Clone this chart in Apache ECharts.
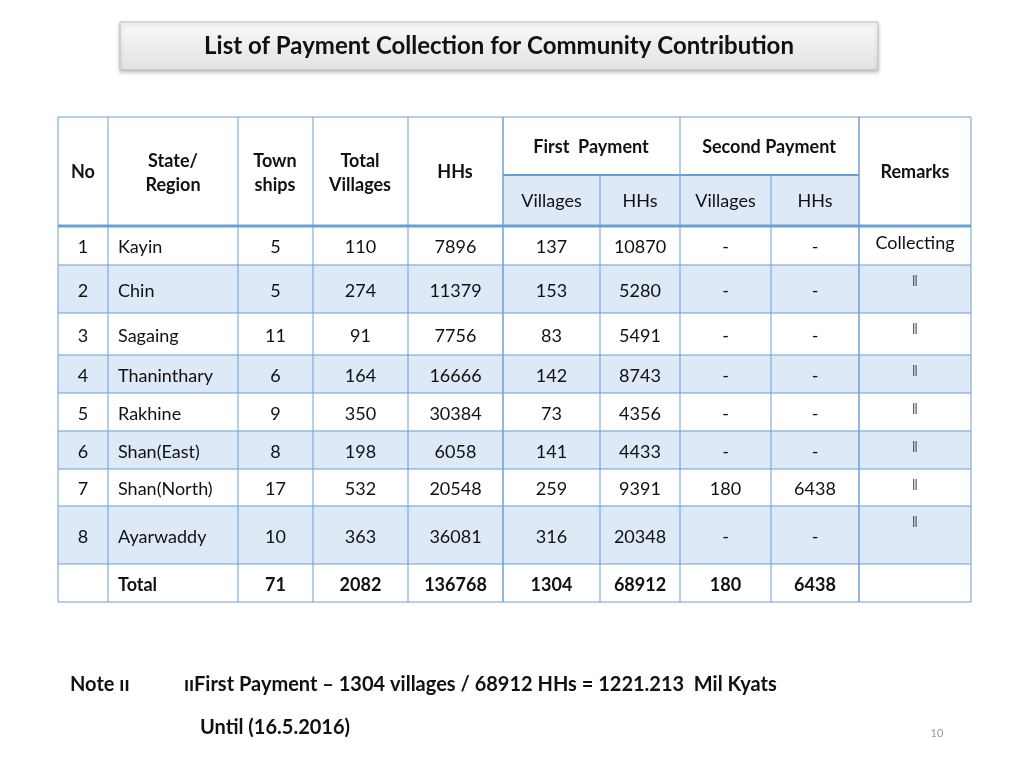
<!DOCTYPE html>
<html><head><meta charset="utf-8">
<script src="https://cdn.jsdelivr.net/npm/echarts@6/dist/echarts.min.js"></script>
<style>html,body{margin:0;background:#fff}#c{width:1024px;height:768px}</style>
</head><body><div id="c"></div>
<script>
var nos = ['1', '2', '3', '4', '5', '6', '7', '8', ''];
var regions = ['Kayin', 'Chin', 'Sagaing', 'Thaninthary', 'Rakhine', 'Shan(East)', 'Shan(North)', 'Ayarwaddy', 'Total'];
var townships = [5, 5, 11, 6, 9, 8, 17, 10, 71];
var totalVillages = [110, 274, 91, 164, 350, 198, 532, 363, 2082];
var hhs = [7896, 11379, 7756, 16666, 30384, 6058, 20548, 36081, 136768];
var firstVillages = [137, 153, 83, 142, 73, 141, 259, 316, 1304];
var firstHHs = [10870, 5280, 5491, 8743, 4356, 4433, 9391, 20348, 68912];
var secondVillages = ['-', '-', '-', '-', '-', '-', 180, '-', 180];
var secondHHs = ['-', '-', '-', '-', '-', '-', 6438, '-', 6438];
var remarks = ['Collecting', '\u2016', '\u2016', '\u2016', '\u2016', '\u2016', '\u2016', '\u2016', ''];

var colX = [58, 108, 238, 313, 408, 503, 600, 680, 771, 859, 971];
var rowY = [226, 265, 313, 355, 393, 431, 469, 506, 564, 602];
var headTop = 117, headMid = 175;
var FONT = 'Lato, "Noto Sans", sans-serif';
var LINE = '#6a9fd4', FILL = '#dde9f6';

var g = [];
function rect(x, y, w, h, fill) {
  g.push({type: 'rect', shape: {x: x, y: y, width: w, height: h}, style: {fill: fill}, silent: true});
}
function line(x1, y1, x2, y2, w) {
  g.push({type: 'line', shape: {x1: x1, y1: y1, x2: x2, y2: y2}, style: {stroke: LINE, lineWidth: w || 1}, silent: true});
}
function text(t, x, y, opt) {
  opt = opt || {};
  g.push({type: 'text', x: x, y: y + 2, silent: true, style: {
    text: String(t), fill: opt.color || '#111', font: (opt.bold ? 'bold ' : '') + (opt.size || 18) + 'px ' + FONT,
    align: opt.align || 'center', verticalAlign: 'middle', lineHeight: opt.lh || 24
  }});
}

// title box
g.push({type: 'rect', shape: {x: 120, y: 22, width: 758, height: 48}, silent: true,
  style: {fill: new echarts.graphic.LinearGradient(0, 0, 0, 1, [{offset: 0, color: '#fafafa'}, {offset: 1, color: '#e2e2e2'}]),
    stroke: '#bdbdbd', lineWidth: 1, shadowBlur: 4, shadowColor: 'rgba(0,0,0,0.25)', shadowOffsetY: 2}});
text('List of Payment Collection for Community Contribution', 499, 44, {bold: true, size: 24});

// fills
rect(colX[5], headMid, colX[9] - colX[5], rowY[0] - headMid, FILL);
for (var r = 0; r < 8; r++) {
  if (r % 2 === 1) rect(colX[0], rowY[r], colX[10] - colX[0], rowY[r + 1] - rowY[r], FILL);
}

// grid lines
line(colX[0], headTop, colX[10], headTop);
line(colX[5], headMid, colX[9], headMid, 2);
for (r = 0; r < rowY.length; r++) line(colX[0], rowY[r], colX[10], rowY[r], r === 0 ? 3 : 1);
for (var c = 0; c < colX.length; c++) {
  if (c === 6 || c === 8) line(colX[c], headMid, colX[c], rowY[9]);
  else line(colX[c], headTop, colX[c], rowY[9], c === 5 || c === 9 ? 1.5 : 1);
}

// header
var hy = (headTop + rowY[0]) / 2;
text('No', 83, hy - 1, {bold: true});
text('State/\nRegion', 173, hy, {bold: true});
text('Town\nships', 275, hy, {bold: true});
text('Total\nVillages', 360, hy, {bold: true});
text('HHs', 455, hy - 1, {bold: true});
text('Remarks', 915, hy - 1, {bold: true});
text('First  Payment', 591, 145, {bold: true});
text('Second Payment', 769, 145, {bold: true});
var subs = ['Villages', 'HHs', 'Villages', 'HHs'];
for (c = 0; c < 4; c++) text(subs[c], (colX[5 + c] + colX[6 + c]) / 2, 199);

// body
var cols = [nos, regions, townships, totalVillages, hhs, firstVillages, firstHHs, secondVillages, secondHHs];
for (r = 0; r < 9; r++) {
  var cy = (rowY[r] + rowY[r + 1]) / 2;
  var bold = r === 8;
  for (c = 0; c < cols.length; c++) {
    if (c === 1) text(cols[c][r], colX[1] + 10, cy, {align: 'left', bold: bold});
    else text(cols[c][r], (colX[c] + colX[c + 1]) / 2, cy, {bold: bold});
  }
  if (r === 0) text(remarks[r], 915, 241);
  else if (remarks[r]) text(remarks[r], 915, rowY[r] + 13, {size: 12});
}

// note
text('Note \u0131\u0131', 70, 683, {bold: true, size: 20, align: 'left'});
text('\u0131\u0131First Payment \u2013 1304 villages / 68912 HHs = 1221.213  Mil Kyats', 184, 683, {bold: true, size: 20, align: 'left'});
text('Until (16.5.2016)', 200, 726, {bold: true, size: 20, align: 'left'});
text('10', 937, 731, {size: 11, color: '#999'});

var chart = echarts.init(document.getElementById('c'));
chart.setOption({animation: false, graphic: g});
</script></body></html>
